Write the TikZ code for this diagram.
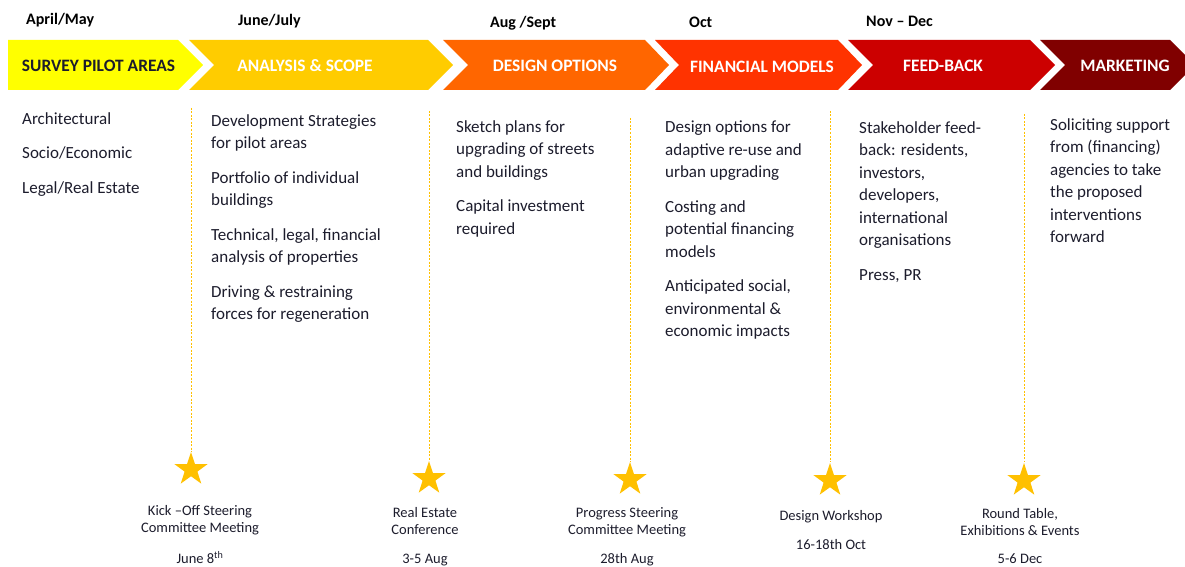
\documentclass[tikz,border=0pt]{standalone}
\usepackage{fontspec}
\setmainfont{Carlito}
\usetikzlibrary{shapes.geometric}

\definecolor{phaseA}{HTML}{FFFF00}
\definecolor{phaseB}{HTML}{FFCC00}
\definecolor{phaseC}{HTML}{FF6600}
\definecolor{phaseD}{HTML}{FF3300}
\definecolor{phaseE}{HTML}{CC0000}
\definecolor{phaseF}{HTML}{800000}
\definecolor{starGold}{HTML}{FFC000}
\definecolor{darkText}{HTML}{1C1C2C}

\tikzset{
  phase/.style={font=\fontsize{17.4}{20}\selectfont\bfseries, text=white, inner sep=0pt},
  month/.style={font=\fontsize{16}{18}\selectfont\bfseries, anchor=west, inner sep=0pt},
  task/.style={font=\fontsize{17}{22.5}\selectfont, align=left, anchor=north west, inner sep=0pt, text=darkText},
  event/.style={font=\fontsize{14.5}{17}\selectfont, align=center, anchor=north, inner sep=0pt, text=darkText},
  milestone/.style={star, star points=5, star point ratio=2.6, fill=starGold, inner sep=0pt, minimum size=35pt},
  guide/.style={draw=starGold, line width=1pt, dash pattern=on 2pt off 1.5pt}
}

\begin{document}
\begin{tikzpicture}[x=1pt, y=-1pt]
      \clip (0, 0) rectangle (1185, 567);
      % Phase arrows:
      \fill[phaseA] (8, 40) -- (178, 40) -- (203, 65) -- (178, 90) -- (8, 90) -- cycle;
      \fill[phaseB] (189, 40) -- (428, 40) -- (453, 65) -- (428, 90) -- (189, 90) -- (214, 65) -- cycle;
      \fill[phaseC] (443, 40) -- (645, 40) -- (669, 65) -- (645, 90) -- (443, 90) -- (468, 65) -- cycle;
      \fill[phaseD] (655, 40) -- (838, 40) -- (862, 65) -- (838, 90) -- (655, 90) -- (679, 65) -- cycle;
      \fill[phaseE] (848, 40) -- (1030, 40) -- (1055, 65) -- (1030, 90) -- (848, 90) -- (873, 65) -- cycle;
      \fill[phaseF] (1040, 40) -- (1170, 40) -- (1195, 65) -- (1170, 90) -- (1040, 90) -- (1065, 65) -- cycle;
      \node[phase, text=darkText](P1) at (98.5, 66){SURVEY PILOT AREAS};
      \node[phase](P2) at (305, 66){ANALYSIS \& SCOPE};
      \node[phase](P3) at (555, 66){DESIGN OPTIONS};
      \node[phase](P4) at (762, 67){FINANCIAL MODELS};
      \node[phase](P5) at (943, 66){FEED-BACK};
      \node[phase](P6) at (1125, 66){MARKETING};
      % Months:
      \node[month](M1) at (26, 20){April/May};
      \node[month](M2) at (238, 21){June/July};
      \node[month](M3) at (490, 23){Aug /Sept};
      \node[month](M4) at (689, 22){Oct};
      \node[month](M5) at (866, 21){Nov – Dec};
      % Tasks:
      \node[task](T1) at (22, 112){Architectural\\[12pt]Socio/Economic\\[12pt]Legal/Real Estate};
      \node[task](T2) at (211, 114){Development Strategies\\for pilot areas\\[12pt]Portfolio of individual\\buildings\\[12pt]Technical, legal, financial\\analysis of properties\\[12pt]Driving \& restraining\\forces for regeneration};
      \node[task](T3) at (456, 120){Sketch plans for\\upgrading of streets\\and buildings\\[12pt]Capital investment\\required};
      \node[task](T4) at (665, 121){Design options for\\adaptive re-use and\\urban upgrading\\[12pt]Costing and\\potential financing\\models\\[12pt]Anticipated social,\\environmental \&\\economic impacts};
      \node[task](T5) at (859, 121){Stakeholder feed-\\back: residents,\\investors,\\developers,\\international\\organisations\\[12pt]Press, PR};
      \node[task](T6) at (1050, 118){Soliciting support\\from (financing)\\agencies to take\\the proposed\\interventions\\forward};
      % Milestones:
      \node[milestone](S1) at (191, 469.5){};
      \node[milestone](S2) at (429, 478.5){};
      \node[milestone](S3) at (630, 479.5){};
      \node[milestone](S4) at (830, 480.5){};
      \node[milestone](S5) at (1024, 480.5){};
      \coordinate (G1) at (191, 108);
      \coordinate (G2) at (429, 111);
      \coordinate (G3) at (630, 118);
      \coordinate (G4) at (830, 111);
      \coordinate (G5) at (1024, 114);
      \draw[guide] (G1) -- (S1.north);
      \draw[guide] (G2) -- (S2.north);
      \draw[guide] (G3) -- (S3.north);
      \draw[guide] (G4) -- (S4.north);
      \draw[guide] (G5) -- (S5.north);
      \node[event](E1) at (200, 505){Kick –Off Steering\\Committee Meeting\\[14pt]June 8\textsuperscript{th}};
      \node[event](E2) at (425, 507.5){Real Estate\\Conference\\[12pt]3-5 Aug};
      \node[event](E3) at (627, 507.5){Progress Steering\\Committee Meeting\\[12pt]28th Aug};
      \node[event](E4) at (831, 510.5){Design Workshop\\[12pt]16-18th Oct};
      \node[event](E5) at (1020, 508){Round Table,\\Exhibitions \& Events\\[11pt]5-6 Dec};
    \end{tikzpicture}
\end{document}
